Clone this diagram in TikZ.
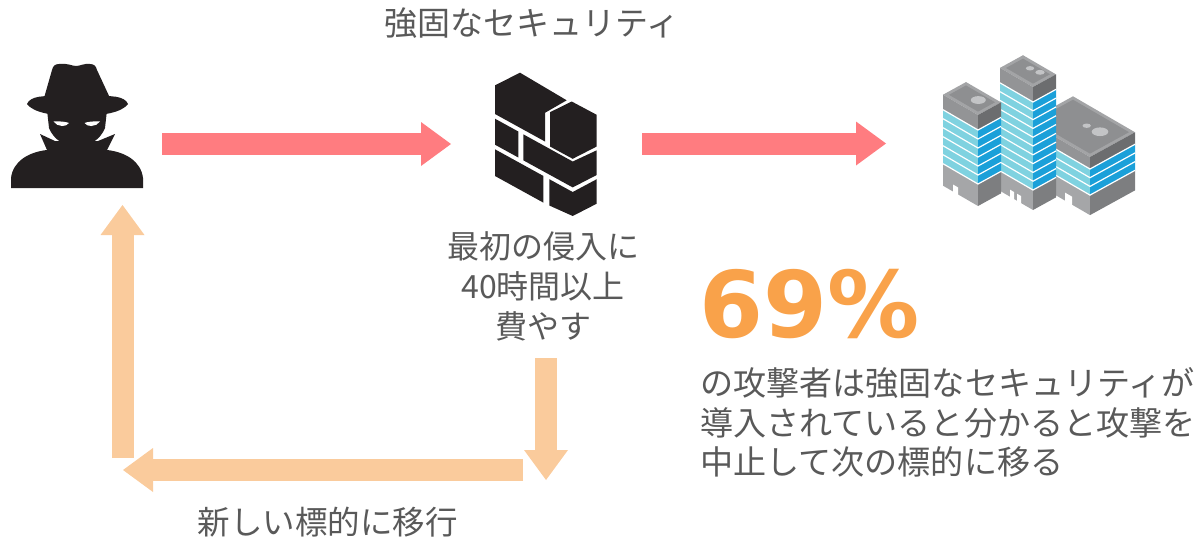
\documentclass[tikz,border=0pt]{standalone}
\usepackage{fontspec}
\setmainfont{Noto Sans CJK JP}
\newfontfamily\pctfont{DejaVu Sans}
\usetikzlibrary{arrows.meta}

\definecolor{txtgray}{HTML}{595959}
\definecolor{ink}{HTML}{231F20}
\definecolor{flowred}{HTML}{FF7C80}
\definecolor{flowpeach}{HTML}{FACB9C}
\definecolor{statorange}{HTML}{F9A24A}
\definecolor{glassL}{HTML}{7FD2E0}
\definecolor{glassR}{HTML}{1BA0D9}
\definecolor{roofRim}{HTML}{A3A4A6}
\definecolor{roofTop}{HTML}{8E8F91}
\definecolor{roofL}{HTML}{939496}
\definecolor{roofR}{HTML}{6C6D6F}
\definecolor{baseL}{HTML}{A5A6A8}
\definecolor{baseR}{HTML}{7D7E80}
\definecolor{cylT}{HTML}{C3C4C6}
\definecolor{cylS}{HTML}{8F9092}

\tikzset{
  blockarrow/.style={line width=22pt,
    -{Triangle[length=30pt,width=44pt,line width=0pt]}},
  attack/.style={blockarrow, draw=flowred},
  retreat/.style={blockarrow, draw=flowpeach},
  caption/.style={inner sep=0pt, text=txtgray,
    font=\fontsize{32}{40}\selectfont},
  silhouette/.style={fill=ink},
  floorline/.style={draw=white, line width=1.2pt},
}

% cylinder (roof tank) on a tower top: depth-left, depth-right, radius
\newcommand\roofTank[3]{%
  \fill[cylS] (#1,#2,2) ellipse [x radius=#3pt, y radius=#3*0.52pt];
  \fill[cylT] (#1,#2,0) ellipse [x radius=#3pt, y radius=#3*0.52pt];}

% door cut-out at the foot of a tower's left face
\newcommand\doorNotch[3]{%
  \fill[white] (#1,0,\twrBaseEnd+1) -- ({#1+#2},0,\twrBaseEnd+1)
    -- ({#1+#2},0,\twrBaseEnd-#3) -- (#1,0,\twrBaseEnd-#3) -- cycle;}

% isometric tower: front roof corner (#1,#2), left depth #3, right depth #4,
% roof slab #5, floors #6 of height #7, base #8, roof/door extras #9
\newcommand\tower[9]{%
  \begin{scope}[shift={(#1,#2)}, x={(-1pt,0.58pt)}, y={(1pt,0.55pt)}, z={(0pt,-1pt)}]
    \pgfmathsetmacro\twrGlassEnd{#5+#6*#7}
    \pgfmathsetmacro\twrBaseEnd{\twrGlassEnd+#8}
    \fill[roofRim] (0,0,0) -- (#3,0,0) -- (#3,#4,0) -- (0,#4,0) -- cycle;
    \fill[roofTop] (3,3,0) -- ({#3-3},3,0) -- ({#3-3},{#4-3},0) -- (3,{#4-3},0) -- cycle;
    \fill[roofL] (0,0,0) -- (#3,0,0) -- (#3,0,#5) -- (0,0,#5) -- cycle;
    \fill[roofR] (0,0,0) -- (0,#4,0) -- (0,#4,#5) -- (0,0,#5) -- cycle;
    \fill[glassL] (0,0,#5) -- (#3,0,#5) -- (#3,0,\twrGlassEnd) -- (0,0,\twrGlassEnd) -- cycle;
    \fill[glassR] (0,0,#5) -- (0,#4,#5) -- (0,#4,\twrGlassEnd) -- (0,0,\twrGlassEnd) -- cycle;
    \fill[baseL] (0,0,\twrGlassEnd) -- (#3,0,\twrGlassEnd) -- (#3,0,\twrBaseEnd) -- (0,0,\twrBaseEnd) -- cycle;
    \fill[baseR] (0,0,\twrGlassEnd) -- (0,#4,\twrGlassEnd) -- (0,#4,\twrBaseEnd) -- (0,0,\twrBaseEnd) -- cycle;
    \foreach \k in {0,...,#6}
      \draw[floorline] (#3,0,{#5+\k*#7}) -- (0,0,{#5+\k*#7}) -- (0,#4,{#5+\k*#7});
    #9
  \end{scope}}

\begin{document}
\begin{tikzpicture}[x=1pt, y=-1pt]
  \useasboundingbox (0,0) rectangle (1201,539);

  % ---- attacker ----
  \fill[silhouette] (11,188) -- (11,178) .. controls (13,161) and (29,152) .. (47,150)
    -- (40,134) -- (55,141) -- (98,141) -- (115,134) -- (107,150)
    .. controls (125,152) and (141,161) .. (143,178) -- (143,188) -- cycle;
  \fill[silhouette] (47,110) -- (107,110) -- (105,128) .. controls (100,140) and (90,146) .. (77,146)
    .. controls (64,146) and (54,140) .. (49,128) -- cycle;
  \fill[silhouette] (27,104) .. controls (30,96) and (45,95) .. (60,97) -- (94,97)
    .. controls (110,95) and (125,96) .. (128,104)
    .. controls (122,112) and (105,116) .. (77,116)
    .. controls (50,116) and (33,112) .. (27,104) -- cycle;
  \fill[silhouette] (44,98) -- (52,70) .. controls (53,66) and (55,64) .. (59,64)
    .. controls (68,63) and (72,66) .. (76,66) .. controls (80,66) and (85,63) .. (90,64)
    .. controls (94,64) and (96,66) .. (97,70) -- (110,98) -- cycle;
  \fill[white] (53.5,121.5) .. controls (60,121) and (66,121.8) .. (69,123)
    .. controls (67.5,125.2) and (65,126) .. (62,126) .. controls (58.5,126) and (55.5,124.2) .. cycle;
  \fill[white] (100,121.5) .. controls (93.5,121) and (87.5,121.8) .. (84.5,123)
    .. controls (86,125.2) and (88.5,126) .. (91.5,126) .. controls (95,126) and (98,124.2) .. cycle;

  % ---- brick wall ----
  \fill[silhouette] (495,85.3) -- (520,72.7) -- (566.7,100.3) -- (545,112.8) -- (545,141.5) -- (495,114) -- cycle;
  \fill[silhouette] (550,112.2) -- (571.7,101.5) -- (596.7,114.8) -- (596.7,146.5) -- (572.7,158.8) -- (550,146.5) -- cycle;
  \fill[silhouette] (495,118.7) -- (518.3,131.5) -- (518.3,157.5) -- (495,144.7) -- cycle;
  \fill[silhouette] (523.3,134.3) -- (572.7,161.5) -- (596.7,150.3) -- (596.7,175) -- (572.7,187.4) -- (523.3,160.3) -- cycle;
  \fill[silhouette] (495,149.3) -- (543.3,175.9) -- (543.3,202.6) -- (495,176) -- cycle;
  \fill[silhouette] (549.3,179.2) -- (572.7,192) -- (596.7,179.2) -- (596.7,203.7) -- (572.7,216) -- (549.3,205.5) -- cycle;

  % ---- office towers (back to front) ----
  \tower{1090}{157}{62}{45}{12}{3}{8.7}{20}{%
    \roofTank{29.3}{26}{4.2}\roofTank{17.5}{27.5}{8.3}\doorNotch{18}{7}{8}}
  \tower{1033}{87}{33}{23}{15}{10}{8.8}{20}{%
    \roofTank{18}{15}{4.2}\roofTank{9.6}{16.6}{4.7}\doorNotch{12}{4}{7}\doorNotch{19}{4}{7}}
  \tower{978}{115}{35}{23}{15}{6}{9}{22}{%
    \roofTank{13.1}{13.4}{7.5}\doorNotch{20}{5}{7}}

  % ---- connector end points ----
  \coordinate (atkOut) at (162,144);
  \coordinate (wallIn) at (451,144);
  \coordinate (wallOut) at (642,143.5);
  \coordinate (bldgIn) at (886,143.5);
  \coordinate (delayOut) at (546,358);
  \coordinate (turnRight) at (546,480);
  \coordinate (turnStart) at (523,470);
  \coordinate (turnLeft) at (123,470);
  \coordinate (backStart) at (122.5,458);
  \coordinate (atkIn) at (122.5,205);

  \draw[attack] (atkOut) -- (wallIn);
  \draw[attack] (wallOut) -- (bldgIn);
  \draw[retreat] (delayOut) -- (turnRight);
  \draw[retreat] (turnStart) -- (turnLeft);
  \draw[retreat] (backStart) -- (atkIn);

  % ---- texts ----
  \node[caption, font=\fontsize{33}{40}\selectfont] (strong) at (532,23) {強固なセキュリティ};
  \node[caption, align=center] (delay) at (543,286) {最初の侵入に\\40時間以上\\費やす};
  \node[caption, font=\fontsize{32.5}{40}\selectfont] (retarget) at (327.5,522) {新しい標的に移行};
  \node[anchor=base west, inner sep=0pt, text=statorange,
        font=\pctfont\bfseries\fontsize{92}{92}\selectfont] (pct) at (699,337) {69\%};
  \node[caption, anchor=west, align=left, font=\fontsize{33.1}{39.5}\selectfont] (note) at (700,422.5)
    {の攻撃者は強固なセキュリティが\\導入されていると分かると攻撃を\\中止して次の標的に移る};
\end{tikzpicture}
\end{document}
